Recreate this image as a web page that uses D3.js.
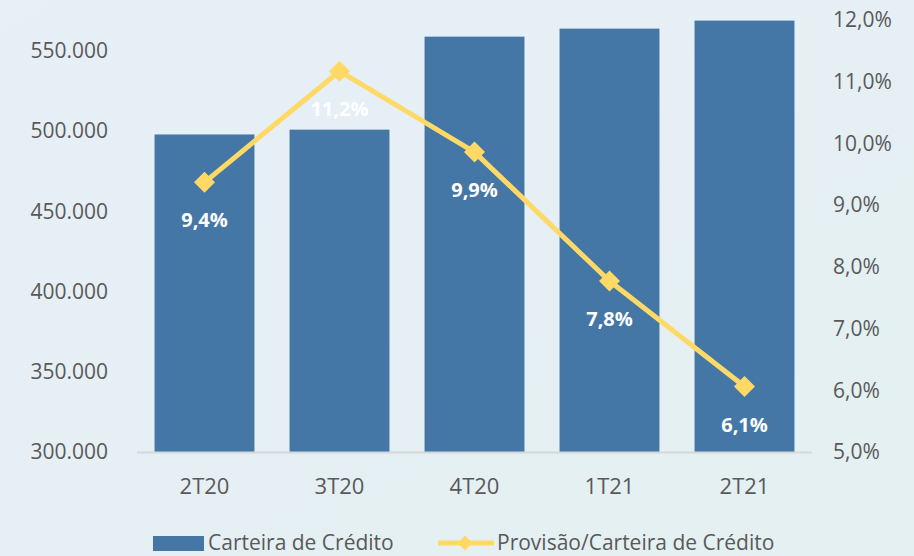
<!DOCTYPE html>
<html>
<head>
<meta charset="utf-8">
<script src="https://cdn.jsdelivr.net/npm/d3@7"></script>
<style>
  body { margin: 0; }
  text { font-family: "Open Sans", sans-serif; }
</style>
</head>
<body>
<div id="chart-area"></div>
<script>
// data
const quarters = ["2T20", "3T20", "4T20", "1T21", "2T21"]
const carteira = [498000, 501000, 559000, 564000, 569000]
const provisao = [9.37, 11.17, 9.86, 7.77, 6.06]
const leftTicks = [300000, 350000, 400000, 450000, 500000, 550000]
const rightTicks = [5, 6, 7, 8, 9, 10, 11, 12]
const seriesNames = ["Carteira de Crédito", "Provisão/Carteira de Crédito"]

const W = 914
const H = 556
const PLOT = { LEFT: 137, RIGHT: 812, TOP: 19, BOTTOM: 452 }

const BAR_COLOR = "#4477a6"
const LINE_COLOR = "#ffd966"
const TEXT_COLOR = "#595959"

const locale = d3.formatLocale({ decimal: ",", thousands: ".", grouping: [3], currency: ["R$", ""] })
const fmtThousands = locale.format(",.0f")
const fmtPct = locale.format(".1f")

const svg = d3.select("#chart-area").append("svg")
  .attr("width", W)
  .attr("height", H)

// background
const defs = svg.append("defs")
const grad = defs.append("linearGradient")
  .attr("id", "bg")
  .attr("x1", "0%").attr("y1", "0%")
  .attr("x2", "100%").attr("y2", "100%")
grad.append("stop").attr("offset", "0%").attr("stop-color", "#e7eff7")
grad.append("stop").attr("offset", "100%").attr("stop-color", "#e4f0f1")

svg.append("rect")
  .attr("width", W)
  .attr("height", H)
  .attr("fill", "url(#bg)")

const x = d3.scaleBand()
  .domain(quarters)
  .range([PLOT.LEFT, PLOT.RIGHT])
  .paddingInner(0.26)
  .paddingOuter(0.13)

const yLeft = d3.scaleLinear()
  .domain([300000, 570000])
  .range([PLOT.BOTTOM, PLOT.TOP])

const yRight = d3.scaleLinear()
  .domain([5, 12])
  .range([PLOT.BOTTOM, PLOT.TOP + 1])

// left axis
const leftAxis = svg.append("g")
  .attr("transform", `translate(${PLOT.LEFT - 29}, 0)`)
  .call(d3.axisLeft(yLeft).tickValues(leftTicks).tickFormat(fmtThousands).tickSize(0).tickPadding(0))
leftAxis.select(".domain").remove()
leftAxis.selectAll("text")
  .attr("font-size", "21px")
  .attr("fill", TEXT_COLOR)

// right axis
const rightAxis = svg.append("g")
  .attr("transform", `translate(${PLOT.RIGHT + 21}, 0)`)
  .call(d3.axisRight(yRight).tickValues(rightTicks).tickFormat(d => fmtPct(d) + "%").tickSize(0).tickPadding(0))
rightAxis.select(".domain").remove()
rightAxis.selectAll("text")
  .attr("font-size", "21px")
  .attr("fill", TEXT_COLOR)

// bars
svg.selectAll("rect.bar")
  .data(carteira)
  .enter().append("rect")
  .attr("class", "bar")
  .attr("x", (d, i) => x(quarters[i]))
  .attr("y", d => yLeft(d))
  .attr("width", x.bandwidth())
  .attr("height", d => yLeft(300000) - yLeft(d))
  .attr("fill", BAR_COLOR)

// baseline
svg.append("line")
  .attr("x1", PLOT.LEFT).attr("x2", PLOT.RIGHT)
  .attr("y1", PLOT.BOTTOM + 0.5).attr("y2", PLOT.BOTTOM + 0.5)
  .attr("stroke", "#d4d8dc")
  .attr("stroke-width", 2)

// x axis
const xAxis = svg.append("g")
  .attr("transform", `translate(0, ${PLOT.BOTTOM})`)
  .call(d3.axisBottom(x).tickSize(0).tickPadding(26))
xAxis.select(".domain").remove()
xAxis.selectAll("text")
  .attr("font-size", "22px")
  .attr("fill", TEXT_COLOR)

// line
const cx = (d, i) => x(quarters[i]) + x.bandwidth() / 2
const line = d3.line()
  .x(cx)
  .y(d => yRight(d))

svg.append("path")
  .datum(provisao)
  .attr("d", line)
  .attr("fill", "none")
  .attr("stroke", LINE_COLOR)
  .attr("stroke-width", 5)
  .attr("stroke-linejoin", "round")

const diamond = d3.symbol().type(d3.symbolSquare).size(220)
svg.selectAll("path.marker")
  .data(provisao)
  .enter().append("path")
  .attr("class", "marker")
  .attr("d", diamond)
  .attr("transform", (d, i) => `translate(${cx(d, i)}, ${yRight(d)}) rotate(45)`)
  .attr("fill", LINE_COLOR)

// data labels
svg.selectAll("text.label")
  .data(provisao)
  .enter().append("text")
  .attr("class", "label")
  .attr("x", cx)
  .attr("y", d => yRight(d) + 45)
  .attr("text-anchor", "middle")
  .attr("font-size", "20px")
  .attr("font-weight", "bold")
  .attr("fill", "#ffffff")
  .text(d => fmtPct(d) + "%")

// legend
const legend = svg.append("g")
legend.append("rect")
  .attr("x", 153).attr("y", 536)
  .attr("width", 51).attr("height", 15)
  .attr("fill", BAR_COLOR)
legend.append("text")
  .attr("x", 208).attr("y", 550)
  .attr("font-size", "21px")
  .attr("fill", TEXT_COLOR)
  .text(seriesNames[0])

legend.append("line")
  .attr("x1", 438).attr("x2", 494)
  .attr("y1", 543).attr("y2", 543)
  .attr("stroke", LINE_COLOR)
  .attr("stroke-width", 5)
legend.append("path")
  .attr("d", d3.symbol().type(d3.symbolSquare).size(110))
  .attr("transform", "translate(465, 543) rotate(45)")
  .attr("fill", LINE_COLOR)
legend.append("text")
  .attr("x", 497).attr("y", 550)
  .attr("font-size", "21px")
  .attr("fill", TEXT_COLOR)
  .text(seriesNames[1])
</script>
</body>
</html>
